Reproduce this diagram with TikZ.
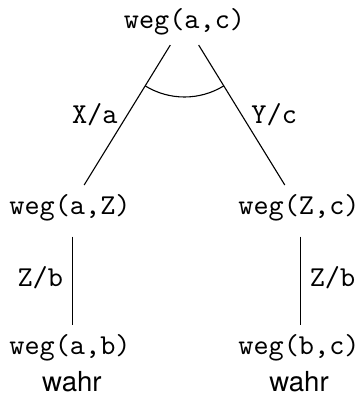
\documentclass[tikz,border=0pt]{standalone}
\usepackage{fontspec}
\setsansfont{TeX Gyre Heros}
\usetikzlibrary{positioning}

\begin{document}
\begin{tikzpicture}[
    font=\ttfamily\fontsize{10.45pt}{12.5pt}\selectfont,
    term/.style={inner sep=0.333em},
    truth/.style={font=\sffamily, inner sep=1pt, anchor=base},
    branch/.style={thin},
    drop/.style={thin, shorten <=2pt}
]
\useasboundingbox (0,0) rectangle (4.571,-5.106);
\node[term] (ac) at (2.349,-0.280) {weg(a,c)};
\node[term] (aZ) at (0.891,-2.649) {weg(a,Z)};
\node[term] (Zc) at (3.807,-2.649) {weg(Z,c)};
\node[term] (ab) at (0.891,-4.431) {weg(a,b)};
\node[term] (bc) at (3.807,-4.431) {weg(b,c)};
\node[truth] (abtrue) at ([xshift=0.7pt,yshift=-13.4pt]ab.base) {wahr};
\node[truth] (bctrue) at ([yshift=-13.4pt]bc.base) {wahr};
\draw[branch] (ac) -- node[left] {X/a} (aZ);
\draw[branch] (ac) -- node[right] {Y/c} (Zc);
\draw[drop] ([xshift=1pt]aZ.south) -- node[left] {Z/b} ([xshift=1pt]ab.north);
\draw[drop] ([xshift=0.4pt]Zc.south) -- node[right] {Z/b} ([xshift=0.4pt]bc.north);
% Winkelbogen zwischen den beiden Zweigen
\draw[branch] (ac.center) ++(238.4:0.955) arc[start angle=238.4, end angle=301.6, radius=0.955];
\end{tikzpicture}
\end{document}
